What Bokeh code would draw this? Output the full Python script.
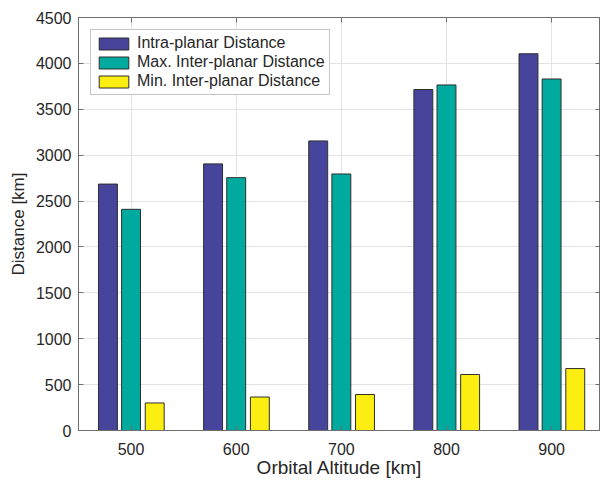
from bokeh.plotting import figure
from bokeh.models import Range1d, FixedTicker, Legend, LegendItem, ColumnDataSource, LinearAxis
from bokeh.embed import file_html
from bokeh.resources import INLINE

# ---- data ----
altitudes = [500, 600, 700, 800, 900]
tick_labels = ["500", "600", "700", "800", "900"]
intra_planar = [2685, 2905, 3155, 3715, 4105]
max_inter_planar = [2410, 2755, 2795, 3765, 3830]
min_inter_planar = [300, 365, 392, 610, 675]
series_names = ["Intra-planar Distance", "Max. Inter-planar Distance", "Min. Inter-planar Distance"]
y_ticks = [0, 500, 1000, 1500, 2000, 2500, 3000, 3500, 4000, 4500]

colors = ["#46449B", "#00AA9F", "#FBEE10"]
offsets = [-22, 0, 22.5]
bar_width = 18

FONT = "Liberation Sans"
TXT = "#262626"
AX = "#6e6e6e"

p = figure(width=600, height=480, x_range=Range1d(450, 946.5), y_range=Range1d(0, 4500),
           output_backend="svg", toolbar_location=None,
           min_border_left=78, min_border_right=0, min_border_top=17, min_border_bottom=0)

items = []
for vals, name, col, off in zip([intra_planar, max_inter_planar, min_inter_planar], series_names, colors, offsets):
    src = ColumnDataSource(dict(x=[a + off for a in altitudes], top=vals))
    r = p.vbar(x="x", top="top", width=bar_width, bottom=0, source=src,
               fill_color=col, line_color="#2e2e2e", line_width=1)
    items.append(LegendItem(label=name, renderers=[r]))

legend = Legend(items=items, location="top_left")
legend.margin = 12
legend.padding = 4
legend.spacing = 1
legend.glyph_width = 37
legend.glyph_height = 15
legend.label_height = 15
legend.label_standoff = 5
legend.label_text_font = FONT
legend.label_text_font_size = "16px"
legend.label_text_color = TXT
legend.border_line_color = "#8c8c8c"
legend.border_line_width = 1
legend.background_fill_color = "white"
legend.background_fill_alpha = 1
p.add_layout(legend)

# mirrored tick-only axes (top and right), MATLAB box style
top_ax = LinearAxis(ticker=FixedTicker(ticks=altitudes))
right_ax = LinearAxis(ticker=FixedTicker(ticks=y_ticks))
for ax in (top_ax, right_ax):
    ax.major_label_text_font_size = "1px"
    ax.major_label_text_color = None
    ax.major_label_standoff = 0
    ax.axis_line_color = None
p.add_layout(top_ax, "above")
p.add_layout(right_ax, "right")

p.xaxis.ticker = FixedTicker(ticks=altitudes)
p.yaxis.ticker = FixedTicker(ticks=y_ticks)
p.xgrid.ticker = FixedTicker(ticks=altitudes)
p.ygrid.ticker = FixedTicker(ticks=y_ticks)
for g in (p.xgrid, p.ygrid):
    g.grid_line_color = "#e3e3e3"
    g.grid_line_width = 1

for ax in p.xaxis + p.yaxis:
    ax.major_tick_in = 5
    ax.major_tick_out = 0
    ax.minor_tick_line_color = None
    ax.major_tick_line_color = AX
    ax.major_label_text_font = FONT
    ax.axis_label_text_font = FONT
    ax.axis_label_text_font_style = "normal"
    ax.axis_label_text_color = TXT

xa = p.below[0]
ya = p.left[0]
for ax in (xa, ya):
    ax.axis_line_color = AX
    ax.major_label_text_font_size = "16px"
    ax.major_label_text_color = TXT
xa.major_label_overrides = {a: t for a, t in zip(altitudes, tick_labels)}
xa.axis_label = "Orbital Altitude [km]"
ya.axis_label = "Distance [km]"
xa.axis_label_text_font_size = "19px"
ya.axis_label_text_font_size = "17px"
xa.major_label_standoff = 12
xa.axis_label_standoff = -1
ya.major_label_standoff = 7
ya.axis_label_standoff = 5

p.outline_line_color = AX
p.outline_line_width = 1
p.background_fill_color = "white"
p.border_fill_color = "white"

open("out.html", "w").write(file_html(p, INLINE))
